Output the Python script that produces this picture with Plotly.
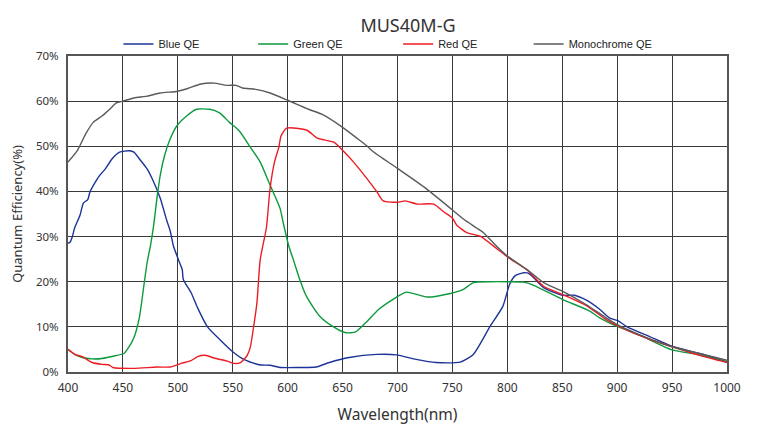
import plotly.graph_objects as go

# Blue QE
blue_x = [400, 402, 404, 406, 411, 414, 418, 420, 425, 429, 434, 440, 447, 456, 460, 466, 472, 478, 484, 490, 493, 496, 501, 504, 505, 512, 518, 527, 539, 550, 560, 574, 584, 593, 611, 626, 638, 656, 681, 699, 717, 735, 757, 769, 784, 796, 802, 807, 815, 819, 824, 833, 850, 861, 872, 884, 893, 901, 909, 930, 950, 975, 1000]
blue_y = [28.5, 28.8, 30.0, 31.9, 34.8, 37.4, 38.2, 39.9, 42.1, 43.6, 45.0, 47.2, 48.7, 49.0, 48.7, 46.9, 45.0, 42.1, 38.5, 33.5, 31.3, 27.9, 24.6, 22.7, 20.5, 17.6, 14.2, 10.0, 7.0, 4.5, 2.8, 1.6, 1.5, 1.0, 1.0, 1.1, 2.1, 3.2, 3.9, 3.8, 2.8, 2.1, 2.2, 3.9, 10.0, 14.6, 19.4, 21.3, 22.0, 21.9, 20.9, 18.7, 17.0, 17.0, 15.9, 13.9, 12.0, 11.3, 10.0, 7.8, 5.7, 4.1, 2.2]

# Green QE
green_x = [400, 406, 413, 422, 431, 443, 451, 454, 460, 465, 469, 472, 475, 478, 481, 484, 488, 493, 499, 508, 517, 529, 538, 547, 556, 566, 575, 584, 593, 596, 601, 605, 611, 617, 629, 641, 653, 662, 671, 683, 696, 708, 727, 748, 760, 769, 784, 800, 815, 824, 850, 875, 884, 900, 923, 950, 975, 1000]
green_y = [5.0, 3.9, 3.2, 2.9, 3.0, 3.6, 4.1, 5.0, 7.6, 12.1, 19.0, 24.2, 27.9, 32.5, 38.5, 43.6, 48.0, 51.6, 54.5, 56.7, 58.2, 58.2, 57.4, 55.3, 53.4, 49.8, 46.5, 41.4, 36.3, 33.0, 27.9, 25.0, 20.5, 16.8, 12.4, 10.1, 8.7, 8.9, 10.9, 13.9, 16.1, 17.7, 16.6, 17.4, 18.3, 19.8, 20.0, 20.0, 19.9, 19.2, 16.1, 13.5, 12.0, 10.1, 7.9, 4.9, 3.8, 2.2]

# Red QE
red_x = [400, 407, 413, 422, 431, 437, 441, 460, 481, 493, 503, 512, 518, 525, 533, 545, 551, 557, 563, 566, 569, 572, 575, 580.6, 584, 588, 592, 594, 599, 608, 618, 627, 642, 650, 660, 672, 681, 687, 700, 707, 718, 733, 742, 750, 754, 763, 776, 791, 803, 818, 833, 850, 872, 890, 900, 930, 950, 975, 1000]
red_y = [5.0, 3.8, 3.4, 2.1, 1.7, 1.6, 1.0, 0.8, 1.1, 1.1, 1.9, 2.5, 3.4, 3.7, 3.1, 2.4, 1.9, 2.1, 3.6, 5.5, 10.0, 15.3, 24.9, 31.9, 40.7, 46.5, 49.8, 52.3, 54.0, 54.0, 53.5, 51.8, 50.9, 49.1, 46.5, 42.9, 40.0, 37.9, 37.6, 37.9, 37.2, 37.2, 35.5, 34.1, 32.5, 30.9, 30.0, 27.2, 25.0, 22.6, 19.0, 17.2, 14.7, 11.6, 10.3, 7.2, 5.6, 3.7, 2.1]

# Monochrome QE
mono_x = [400, 408.6, 416, 423, 431, 438, 444, 450, 460, 472, 484, 500, 509, 521, 533, 545, 553, 559, 571, 584, 600, 619, 631, 650, 663, 672, 678, 700, 724, 750, 760, 772, 778, 793, 801, 818, 833, 850, 872, 890, 900, 920, 950, 975, 1000]
mono_y = [46.5, 49.1, 52.7, 55.3, 56.7, 58.2, 59.6, 60.0, 60.7, 61.1, 61.8, 62.2, 62.8, 63.8, 64.0, 63.5, 63.5, 62.9, 62.6, 61.8, 60.2, 58.2, 57.1, 54.2, 51.8, 50.1, 48.8, 45.1, 41.0, 35.9, 33.9, 31.9, 30.9, 27.2, 25.5, 22.7, 19.8, 17.9, 14.9, 12.0, 10.5, 8.3, 5.6, 4.1, 2.6]

x_ticks = [400, 450, 500, 550, 600, 650, 700, 750, 800, 850, 900, 950, 1000]
y_ticks = [0, 10, 20, 30, 40, 50, 60, 70]
y_tick_labels = [f"{v}%" for v in y_ticks]

series = [
    ("Blue QE", blue_x, blue_y, "#1c3497", "legend", 0.0765),
    ("Green QE", green_x, green_y, "#0c9a3e", "legend2", 0.281),
    ("Red QE", red_x, red_y, "#ec1c24", "legend3", 0.501),
    ("Monochrome QE", mono_x, mono_y, "#5a5a5a", "legend4", 0.699),
]

fig = go.Figure()
legend_layouts = {}
for name, xs, ys, col, lg, lx in series:
    fig.add_trace(go.Scatter(x=xs, y=ys, mode="lines", name=name, legend=lg,
                             line=dict(color=col, width=1.4, shape="spline", smoothing=0.6)))
    legend_layouts[lg] = dict(orientation="h", x=lx, xanchor="left", y=1.038, yanchor="middle",
                              font=dict(family="Liberation Sans", size=11, color="#222"),
                              itemwidth=30, bgcolor="rgba(0,0,0,0)")

fig.update_layout(
    width=759, height=424,
    margin=dict(l=59.5, r=39.5, t=48, b=60, autoexpand=False),
    paper_bgcolor="white", plot_bgcolor="white",
    title=dict(text="MUS40M-G", x=0.527, xanchor="center", y=0.9575, yanchor="middle",
               font=dict(family="Noto Sans", size=18, color="#333")),
    showlegend=True,
    **legend_layouts,
)
fig.update_xaxes(range=[400, 1000], tickvals=x_ticks, ticktext=[str(v) for v in x_ticks],
                 showgrid=True, gridcolor="#3a3a3a", gridwidth=1.3,
                 showline=True, linecolor="#555", linewidth=2, mirror=True,
                 zeroline=False, ticks="", automargin=False, ticklabelstandoff=4,
                 tickfont=dict(family="Noto Sans", size=12, color="#333"),
                 title=dict(text="Wavelength(nm)", font=dict(family="Noto Sans", size=15.5, color="#333"), standoff=14))
fig.update_yaxes(range=[0, 70], tickvals=y_ticks, ticktext=y_tick_labels,
                 showgrid=True, gridcolor="#3a3a3a", gridwidth=1.3,
                 showline=True, linecolor="#555", linewidth=2, mirror=True,
                 zeroline=False, ticks="", automargin=False, ticklabelstandoff=5,
                 tickfont=dict(family="Noto Sans", size=11.5, color="#333"),
                 title=dict(text="Quantum Efficiency(%)", font=dict(family="Noto Sans", size=13, color="#333"), standoff=11))

fig.write_html("out.html")
